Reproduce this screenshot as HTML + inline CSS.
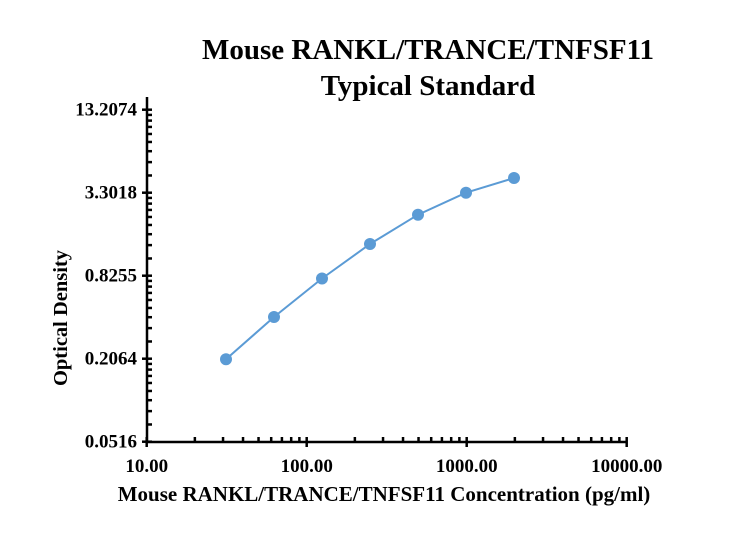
<!DOCTYPE html>
<html><head><meta charset="utf-8"><style>
html,body{margin:0;padding:0;background:#fff;}
svg text{font-family:"Liberation Serif",serif;font-weight:bold;fill:#000;}
</style></head><body>
<svg id="s" width="737" height="553" xmlns="http://www.w3.org/2000/svg">
<rect width="737" height="553" fill="#fff"/>
<text x="428" y="59" font-size="29" text-anchor="middle">Mouse RANKL/TRANCE/TNFSF11</text>
<text x="428" y="95" font-size="29" text-anchor="middle">Typical Standard</text>
<text transform="translate(67,318) rotate(-90)" font-size="20.5" text-anchor="middle">Optical Density</text>
<text x="384" y="501" font-size="21" text-anchor="middle">Mouse RANKL/TRANCE/TNFSF11 Concentration (pg/ml)</text>
<g id="ax" stroke="#000" stroke-width="2.5" fill="none">
<line x1="147" y1="97" x2="147" y2="443"/>
<line x1="146" y1="442" x2="627" y2="442"/>
</g>
<g id="lab" font-size="19"></g>
<polyline points="226,359.3 274,317 322,278.5 370,244 418,214.7 466,192.7 514,178" fill="none" stroke="#5b9bd5" stroke-width="2"/>
<g fill="#5b9bd5">
<circle cx="226" cy="359.3" r="6"/><circle cx="274" cy="317" r="6"/><circle cx="322" cy="278.5" r="6"/><circle cx="370" cy="244" r="6"/><circle cx="418" cy="214.7" r="6"/><circle cx="466" cy="192.7" r="6"/><circle cx="514" cy="178" r="6"/>
</g>
</svg>
<script>
var ns="http://www.w3.org/2000/svg",ax=document.getElementById("ax"),lab=document.getElementById("lab");
function L(a,b,c,d){var l=document.createElementNS(ns,"line");l.setAttribute("x1",a);l.setAttribute("y1",b);l.setAttribute("x2",c);l.setAttribute("y2",d);ax.appendChild(l);}
function T(x,y,s,anc){var t=document.createElementNS(ns,"text");t.setAttribute("x",x);t.setAttribute("y",y);t.setAttribute("text-anchor",anc);t.textContent=s;lab.appendChild(t);}
var xl=["10.00","100.00","1000.00","10000.00"];
for(var d=0;d<4;d++){var X=146.7+160*d;L(X,437,X,447);T(X,472,xl[d],"middle");
 if(d<3)for(var k=2;k<10;k++){var x=X+160*Math.log10(k);L(x,437,x,442);}}
var yl=["0.0516","0.2064","0.8255","3.3018","13.2074"];
for(var i=0;i<5;i++){var Y=441.7-83*i;L(142,Y,152,Y);T(137,Y+6,yl[i],"end");
 if(i<4)for(var n=1;n<=8;n++){var y=Y-83*Math.log(1+n/3)/Math.log(4);L(147,y,152,y);}}
</script>
</body></html>
